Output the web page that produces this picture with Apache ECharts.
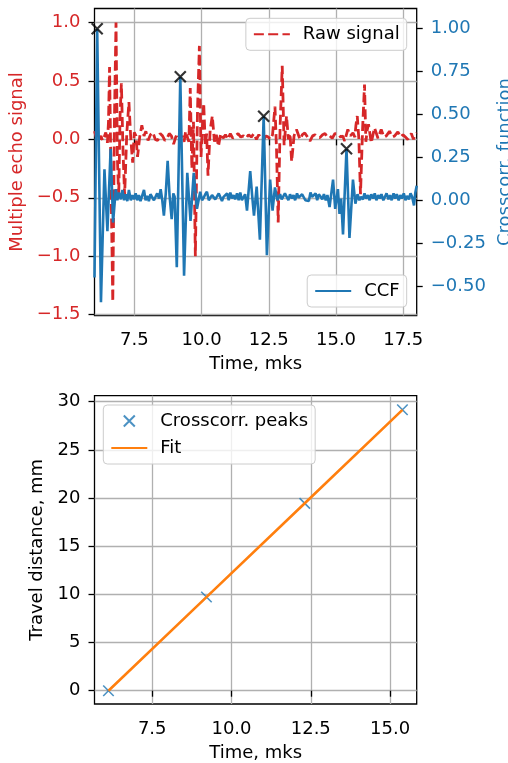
<!DOCTYPE html>
<html><head><meta charset="utf-8">
<script src="https://cdn.jsdelivr.net/npm/echarts@6/dist/echarts.min.js"></script>
<style>html,body{margin:0;padding:0;background:#fff}#c{width:508px;height:763px}</style>
</head><body><div id="c"></div>
<script>
// ---------------- data ----------------
const rawSignal = [
[6.02,0.07],[6.08,0.02],[6.14,0.05],[6.20,0.0],[6.26,0.03],[6.32,-0.01],[6.38,0.02],[6.44,0.06],[6.50,-0.03],[6.54,0.15],[6.58,0.62],[6.64,-0.45],[6.70,-1.39],[6.76,0.15],[6.82,1.0],[6.87,-0.15],[6.92,-0.50],[6.97,0.2],[7.02,0.48],[7.08,-0.1],[7.14,-0.48],[7.22,0.05],[7.30,0.32],[7.37,0.0],[7.44,-0.2],[7.50,0.06],[7.56,0.03],[7.62,-0.15],[7.70,0.02],[7.78,0.12],[7.86,0.03],[7.93,0.07],[8.01,-0.01],[8.10,0.04],[8.19,0.06],[8.28,0.0],[8.37,-0.01],[8.46,0.05],[8.55,0.03],[8.64,-0.01],[8.72,0.01],[8.80,0.05],[8.88,0.03],[8.96,-0.04],[9.04,0.02],[9.12,0.05],[9.20,0.0],[9.28,0.03],[9.35,-0.02],[9.41,0.07],[9.47,0.02],[9.53,-0.02],[9.58,0.44],[9.64,-0.25],[9.70,0.15],[9.77,-1.0],[9.85,0.25],[9.92,0.80],[9.98,-0.15],[10.03,0.1],[10.08,0.31],[10.14,-0.05],[10.19,0.05],[10.24,-0.31],[10.32,0.08],[10.40,0.20],[10.48,-0.02],[10.55,0.04],[10.63,-0.06],[10.71,0.05],[10.80,0.01],[10.89,0.04],[10.98,0.0],[11.07,0.05],[11.16,0.01],[11.26,0.03],[11.36,0.05],[11.46,0.02],[11.56,0.03],[11.66,0.01],[11.75,0.04],[11.85,0.02],[11.95,0.05],[12.04,0.0],[12.13,0.04],[12.22,0.01],[12.31,0.0],[12.40,0.03],[12.48,0.02],[12.56,0.0],[12.64,0.04],[12.73,0.28],[12.79,-0.1],[12.85,-0.71],[12.92,0.1],[13.00,0.63],[13.07,-0.05],[13.16,0.20],[13.23,0.0],[13.29,0.05],[13.35,-0.19],[13.44,0.03],[13.53,0.085],[13.66,0.0],[13.75,0.04],[13.84,0.055],[13.94,0.02],[14.03,-0.015],[14.13,0.03],[14.22,0.04],[14.31,0.02],[14.40,0.015],[14.50,0.04],[14.59,0.05],[14.68,0.02],[14.77,0.03],[14.86,0.01],[14.96,0.05],[15.07,0.05],[15.17,0.02],[15.25,0.03],[15.32,-0.015],[15.44,0.085],[15.53,0.03],[15.63,0.055],[15.70,0.02],[15.74,0.12],[15.79,0.20],[15.85,0.0],[15.91,-0.47],[15.99,0.1],[16.06,0.47],[16.11,-0.02],[16.16,0.08],[16.21,0.13],[16.31,-0.03],[16.43,0.10],[16.56,0.01],[16.68,0.085],[16.78,0.02],[16.87,0.03],[16.99,0.07],[17.09,0.02],[17.18,0.03],[17.30,0.065],[17.40,0.02],[17.49,0.04],[17.58,0.02],[17.67,0.0],[17.80,0.05],[17.88,0.0],[17.94,0.04],[18.0,0.055]
];
const ccf = [
[6.02,-0.45],[6.12,1.0],[6.26,-0.595],[6.39,0.18],[6.50,-0.18],[6.62,0.30],[6.71,-0.13],[6.81,0.065],[6.87,0.0],[6.93,0.045],[7.00,0.005],[7.06,0.06],[7.12,0.0],[7.18,0.035],[7.24,-0.005],[7.30,0.06],[7.37,0.0],[7.43,0.03],[7.49,0.005],[7.55,0.04],[7.61,0.0],[7.67,0.03],[7.73,-0.005],[7.80,0.03],[7.86,0.06],[7.92,0.0],[7.98,0.025],[8.04,-0.005],[8.10,0.035],[8.17,0.045],[8.23,0.0],[8.29,0.005],[8.35,0.04],[8.42,0.01],[8.48,0.065],[8.54,0.0],[8.60,-0.09],[8.67,0.04],[8.74,0.23],[8.81,0.03],[8.89,-0.11],[8.95,0.04],[9.00,0.02],[9.08,-0.39],[9.21,0.72],[9.35,-0.44],[9.47,0.16],[9.59,-0.12],[9.71,0.16],[9.83,-0.05],[9.95,0.05],[10.02,0.0],[10.08,0.015],[10.14,0.035],[10.20,0.05],[10.27,0.0],[10.33,0.015],[10.39,0.03],[10.45,0.035],[10.51,0.005],[10.57,0.0],[10.64,0.04],[10.70,0.03],[10.76,-0.005],[10.82,0.02],[10.88,0.01],[10.95,0.04],[11.01,0.0],[11.07,0.045],[11.13,0.01],[11.19,0.03],[11.25,0.005],[11.32,0.04],[11.38,0.0],[11.44,0.045],[11.50,0.0],[11.56,0.005],[11.62,0.035],[11.69,-0.06],[11.81,0.17],[11.88,0.03],[11.95,-0.09],[12.05,0.08],[12.17,-0.23],[12.31,0.49],[12.43,-0.32],[12.55,0.12],[12.64,-0.06],[12.73,0.075],[12.82,0.0],[12.92,0.035],[12.98,0.005],[13.04,0.01],[13.10,0.04],[13.17,0.03],[13.23,0.0],[13.29,0.035],[13.36,0.01],[13.42,0.03],[13.48,0.0],[13.55,0.04],[13.61,0.015],[13.67,0.005],[13.74,0.035],[13.80,0.04],[13.86,0.0],[13.92,0.01],[13.99,-0.005],[14.05,0.045],[14.11,0.02],[14.18,0.01],[14.24,0.04],[14.30,0.0],[14.36,0.035],[14.43,0.02],[14.49,0.005],[14.55,0.035],[14.62,0.0],[14.68,0.03],[14.76,-0.04],[14.89,0.12],[14.97,-0.05],[15.07,0.065],[15.13,-0.08],[15.19,0.01],[15.26,-0.20],[15.39,0.30],[15.50,-0.22],[15.63,0.12],[15.72,-0.02],[15.80,0.035],[15.87,0.0],[15.93,0.02],[16.00,0.005],[16.06,0.04],[16.12,0.01],[16.19,0.03],[16.25,0.0],[16.31,0.035],[16.38,0.01],[16.44,0.04],[16.50,0.0],[16.57,0.03],[16.63,0.01],[16.69,0.035],[16.76,0.0],[16.82,0.02],[16.88,0.04],[16.95,0.005],[17.01,0.03],[17.07,0.0],[17.14,0.04],[17.20,0.01],[17.26,0.035],[17.33,0.0],[17.39,0.03],[17.45,0.01],[17.52,0.04],[17.58,0.0],[17.64,0.025],[17.71,0.005],[17.77,0.04],[17.83,0.02],[17.90,-0.03],[17.95,0.045],[18.0,0.085]
];
const peakTimes = [6.12, 9.21, 12.31, 15.39];
const peakCcf = [1.0, 0.72, 0.49, 0.30];
const travelDistance = [0, 9.72, 19.44, 29.16];

const ticksTimeTop = [7.5, 10, 12.5, 15, 17.5];
const ticksSignal = [-1.5, -1.0, -0.5, 0, 0.5, 1.0];
const ticksCcf = [-0.5, -0.25, 0, 0.25, 0.5, 0.75, 1.0];
const ticksTimeBottom = [7.5, 10, 12.5, 15];
const ticksDistance = [0, 5, 10, 15, 20, 25, 30];

// ---------------- derived: linear fit of peaks ----------------
function linFit(xs, ys) {
  const n = xs.length;
  const mx = xs.reduce((a, b) => a + b, 0) / n;
  const my = ys.reduce((a, b) => a + b, 0) / n;
  let sxy = 0, sxx = 0;
  for (let i = 0; i < n; i++) { sxy += (xs[i] - mx) * (ys[i] - my); sxx += (xs[i] - mx) ** 2; }
  const k = sxy / sxx;
  return { k, b: my - k * mx };
}
const fit = linFit(peakTimes, travelDistance);
const fitLine = peakTimes.map(t => [t, fit.k * t + fit.b]);

// ---------------- styling ----------------
const FONT = 'DejaVu Sans';
const RED = '#d62728', BLUE = '#1f77b4', ORANGE = '#ff7f0e';
const XMARK = 'path://M0,0L10,10M10,0L0,10';
const fmt = (v, d) => v.toFixed(d).replace('-', '\u2212');

function axisParts(ticks, digits, color, split) {
  return {
    axisLine: { show: false },
    axisTick: { show: true, customValues: ticks, length: 6, lineStyle: { color: '#000', width: 1.3 } },
    axisLabel: { customValues: ticks, formatter: v => fmt(v, digits), color: color, fontFamily: FONT, fontSize: 18, margin: 14 },
    splitLine: { show: split, lineStyle: { color: '#b0b0b0', width: 1.3 } },
    nameTextStyle: { fontFamily: FONT, fontSize: 18, color: color },
    nameLocation: 'middle'
  };
}
function xParts(ticks) {
  const p = axisParts(ticks, 1, '#000', true);
  p.axisLabel.margin = 16;
  return p;
}

const legendBase = {
  orient: 'vertical',
  itemWidth: 36, itemHeight: 11, itemGap: 9,
  padding: [7, 7, 7, 7],
  backgroundColor: 'rgba(255,255,255,0.8)',
  borderColor: '#cccccc', borderWidth: 1, borderRadius: 4,
  selectedMode: false,
  textStyle: { fontFamily: FONT, fontSize: 18, color: '#000', padding: [0, 0, 0, 8] }
};
const noSymbol = { color: 'rgba(0,0,0,0)', borderColor: 'rgba(0,0,0,0)', borderWidth: 0 };

const option = {
  animation: false,
  backgroundColor: '#fff',
  textStyle: { fontFamily: FONT },
  grid: [
    { left: 94.5, width: 322.2, top: 8.5, height: 307, show: true, borderColor: '#000', borderWidth: 1.3, backgroundColor: 'transparent', containLabel: false, outerBoundsMode: 'none' },
    { left: 94.5, width: 322.2, top: 395.7, height: 308.3, show: true, borderColor: '#000', borderWidth: 1.3, backgroundColor: 'transparent', containLabel: false, outerBoundsMode: 'none' }
  ],
  xAxis: [
    Object.assign({ type: 'value', gridIndex: 0, min: 6.02, max: 18.0, name: 'Time, mks', nameGap: 40 }, xParts(ticksTimeTop)),
    Object.assign({ type: 'value', gridIndex: 1, min: 5.68, max: 15.84, name: 'Time, mks', nameGap: 40 }, xParts(ticksTimeBottom))
  ],
  yAxis: [
    Object.assign({ type: 'value', gridIndex: 0, min: -1.507, max: 1.12, name: 'Multiple echo signal', nameGap: 57, nameRotate: 90 }, axisParts(ticksSignal, 1, RED, true)),
    Object.assign({ type: 'value', gridIndex: 0, position: 'right', min: -0.672, max: 1.118, name: 'Crosscorr. function', nameGap: 72, nameRotate: 90 }, axisParts(ticksCcf, 2, BLUE, false)),
    Object.assign({ type: 'value', gridIndex: 1, min: -1.38, max: 30.62, name: 'Travel distance, mm', nameGap: 38, nameRotate: 90 }, axisParts(ticksDistance, 0, '#000', true))
  ],
  legend: [
    Object.assign({}, legendBase, { data: [{ name: 'Raw signal', itemStyle: noSymbol }], right: 101.3, top: 18.3 }),
    Object.assign({}, legendBase, { data: [{ name: 'CCF', itemStyle: noSymbol }], right: 101.3, top: 275 }),
    Object.assign({}, legendBase, { data: ['Crosscorr. peaks', { name: 'Fit', itemStyle: noSymbol }], left: 103.3, top: 405 })
  ],
  series: [
    { name: 'Raw signal', type: 'line', xAxisIndex: 0, yAxisIndex: 0, data: rawSignal, symbol: 'none', silent: true,
      lineStyle: { color: RED, width: 2.8, type: [10, 4.3] }, itemStyle: { color: RED }, z: 2 },
    { name: 'CCF', type: 'line', xAxisIndex: 0, yAxisIndex: 1, data: ccf, symbol: 'none', silent: true,
      lineStyle: { color: BLUE, width: 2.6 }, itemStyle: { color: BLUE }, z: 3 },
    { name: 'peaksTop', type: 'scatter', xAxisIndex: 0, yAxisIndex: 1, data: peakTimes.map((t, i) => [t, peakCcf[i]]),
      symbol: XMARK, symbolSize: 11, silent: true, itemStyle: { color: '#000', borderColor: '#000', borderWidth: 2.2 }, z: 4 },
    { name: 'Crosscorr. peaks', type: 'scatter', xAxisIndex: 1, yAxisIndex: 2, data: peakTimes.map((t, i) => [t, travelDistance[i]]),
      symbol: XMARK, symbolSize: 10.5, silent: true, itemStyle: { color: BLUE, borderColor: BLUE, borderWidth: 1.6 }, z: 3 },
    { name: 'Fit', type: 'line', xAxisIndex: 1, yAxisIndex: 2, data: fitLine, symbol: 'none', silent: true,
      lineStyle: { color: ORANGE, width: 2.6 }, itemStyle: { color: ORANGE }, z: 4 }
  ]
};

const chart = echarts.init(document.getElementById('c'), null, { renderer: 'canvas' });
chart.setOption(option);
</script>
</body></html>
